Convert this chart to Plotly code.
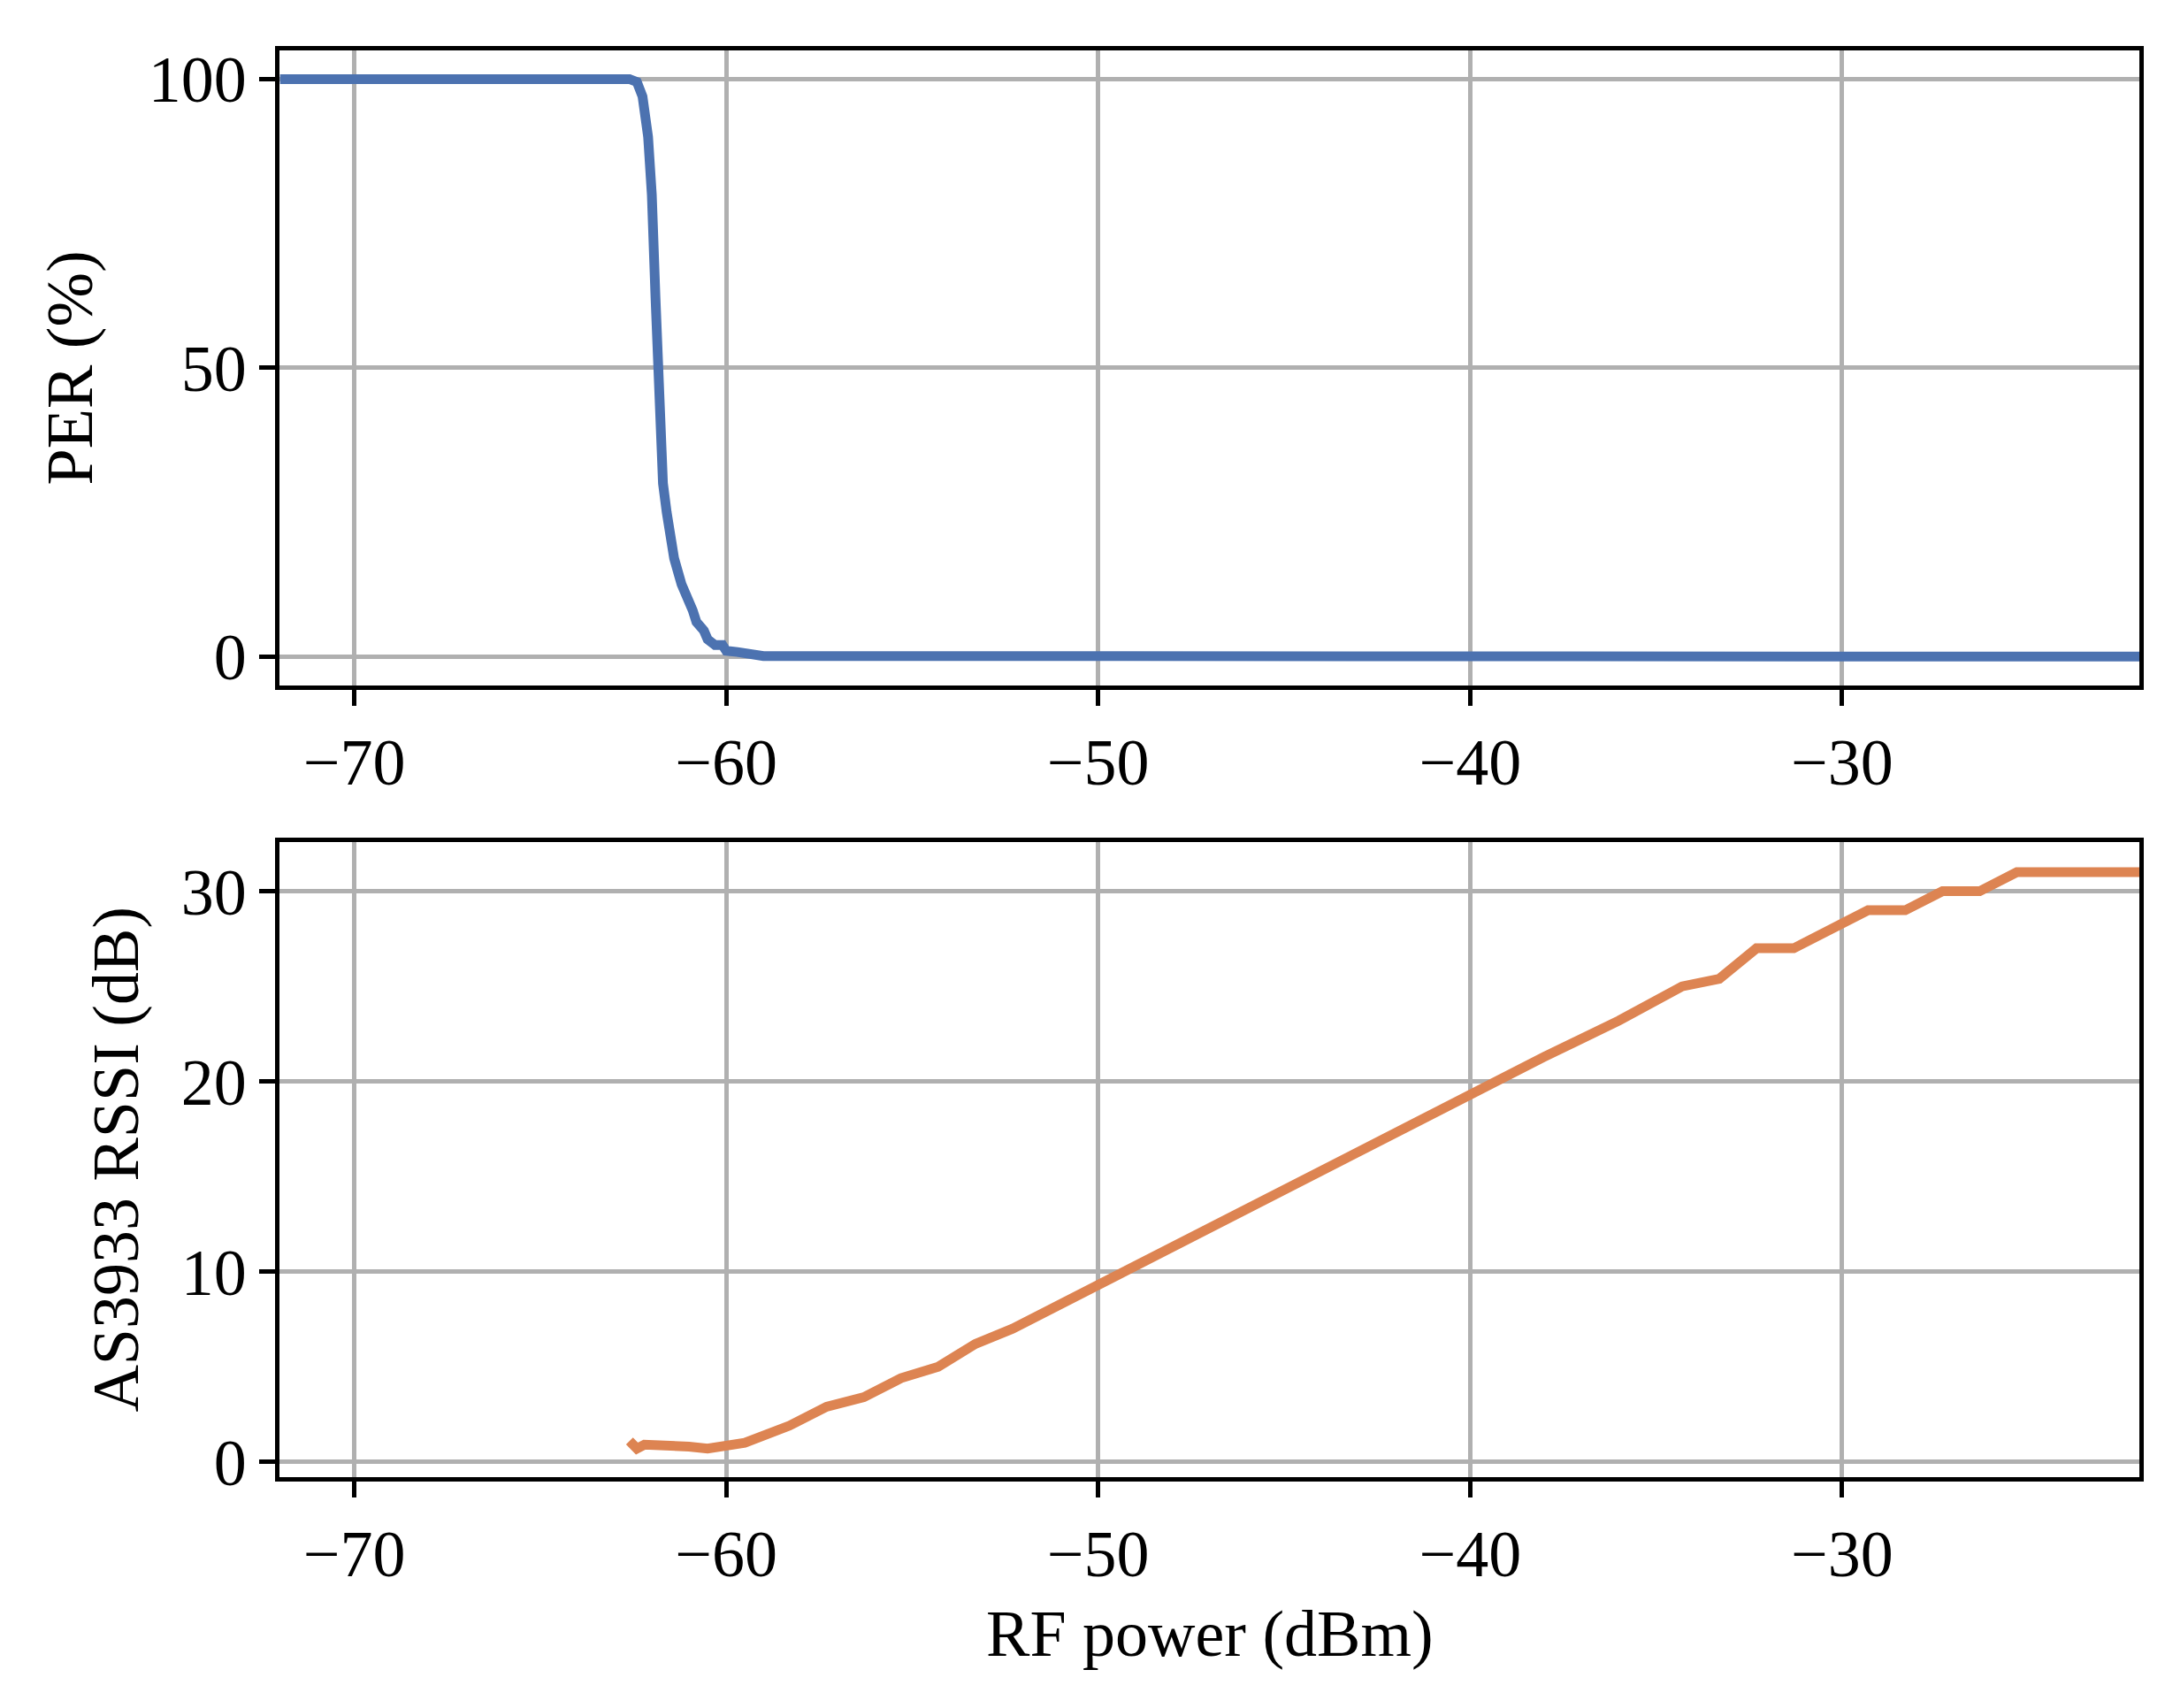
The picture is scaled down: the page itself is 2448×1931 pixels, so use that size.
import plotly.graph_objects as go
from plotly.subplots import make_subplots

per_x = [-72, -62.6, -62.4, -62.25, -62.1, -62.0, -61.9, -61.8, -61.7, -61.6, -61.5, -61.4, -61.2, -61.0, -60.9, -60.8, -60.6, -60.5, -60.3, -60.1, -60.0, -59.7, -59.4, -59.0, -22]
per_y = [100, 100, 99.5, 97, 90, 80, 62, 45, 30, 25, 21, 17, 12.5, 10, 8, 6, 4.5, 3, 2, 2, 1, 0.8, 0.4, 0.1, 0]

rssi_x = [-62.6, -62.4, -62.2, -61.8, -61.0, -60.5, -60.0, -59.5, -58.3, -57.3, -56.3, -55.3, -54.3, -53.3, -52.3, -51.3,
          -50, -48, -46, -44, -42, -40, -38, -36, -34.3, -33.3, -32.3, -31.3, -30.3, -29.3, -28.3, -27.3, -26.3, -25.3, -22]
rssi_y = [1.1, 0.7, 0.9, 0.9, 0.8, 0.7, 0.8, 1.0, 1.9, 2.9, 3.4, 4.4, 5.0, 6.2, 7.0, 8.0,
          9.4, 11.4, 13.4, 15.4, 17.4, 19.4, 21.3, 23.2, 25.0, 25.4, 27.0, 27.0, 28.0, 29.0, 29.0, 30.0, 30.0, 31.0, 31.0]

fig = make_subplots(rows=2, cols=1)
fig.add_trace(go.Scatter(x=per_x, y=per_y, mode="lines", line=dict(color="#4c72b0", width=11)), row=1, col=1)
fig.add_trace(go.Scatter(x=rssi_x, y=rssi_y, mode="lines", line=dict(color="#dd8452", width=11)), row=2, col=1)

font = dict(family="Liberation Serif, DejaVu Serif, serif", size=74, color="black")
ax = dict(showline=True, linecolor="black", linewidth=5, mirror=True, ticks="outside", ticklen=18, tickwidth=5,
          tickcolor="black", showgrid=True, gridcolor="#b0b0b0", gridwidth=4.5, zeroline=False, tickfont=font)
fig.update_xaxes(**ax, range=[-72, -22], tickvals=[-70, -60, -50, -40, -30], ticktext=["−70", "−60", "−50", "−40", "−30"],
                 domain=[0.126, 0.985])
fig.update_yaxes(**ax)
fig.update_yaxes(range=[-5, 105], tickvals=[0, 50, 100], domain=[0.600, 0.978], row=1, col=1,
                 title=dict(text="PER (%)", font=font, standoff=40))
fig.update_yaxes(range=[-0.8, 32.6], tickvals=[0, 10, 20, 30], domain=[0.129, 0.507], row=2, col=1,
                 title=dict(text="AS3933 RSSI (dB)", font=font, standoff=25))
fig.update_xaxes(title=dict(text="RF power (dBm)", font=font, standoff=25), row=2, col=1)
fig.update_layout(width=2448, height=1931, margin=dict(l=0, r=0, t=0, b=0), showlegend=False,
                  plot_bgcolor="white", paper_bgcolor="white")
fig.write_html("out.html")
